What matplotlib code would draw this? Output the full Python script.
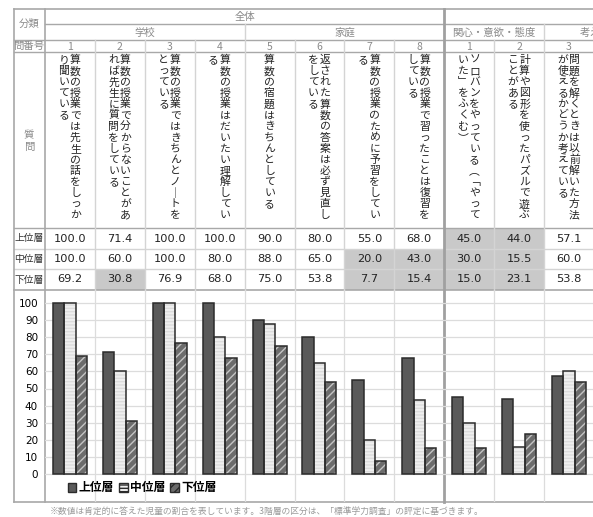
import numpy as np
import matplotlib
matplotlib.use("Agg")
import matplotlib.pyplot as plt
from matplotlib.patches import Patch, Rectangle

plt.rcParams['font.family'] = ['Noto Sans CJK JP', 'DejaVu Sans']

# ---- data ----
numbers = ['1', '2', '3', '4', '5', '6', '7', '8', '1', '2', '3']
questions = [
    '算数の授業では先生の話をしっかり聞いている',
    '算数の授業で分からないことがあれば先生に質問をしている',
    '算数の授業ではきちんとノートをとっている',
    '算数の授業はだいたい理解している',
    '算数の宿題はきちんとしている',
    '返された算数の答案は必ず見直しをしている',
    '算数の授業のために予習をしている',
    '算数の授業で習ったことは復習をしている',
    'ソロバンをやっている（「やっていた」をふくむ）',
    '計算や図形を使ったパズルで遊ぶことがある',
    '問題を解くときは以前解いた方法が使えるかどうか考えている',
]
groups = ['学校', '家庭', '関心・意欲・態度', '考え方']
group_span = [(0, 4), (4, 8), (8, 10), (10, 12)]
levels = ['上位層', '中位層', '下位層']
upper = [100.0, 71.4, 100.0, 100.0, 90.0, 80.0, 55.0, 68.0, 45.0, 44.0, 57.1]
middle = [100.0, 60.0, 100.0, 80.0, 88.0, 65.0, 20.0, 43.0, 30.0, 15.5, 60.0]
lower = [69.2, 30.8, 76.9, 68.0, 75.0, 53.8, 7.7, 15.4, 15.0, 23.1, 53.8]
# shaded cells (row, column)
highlight = [(2, 1), (1, 6), (1, 7), (2, 6), (2, 7),
             (0, 8), (1, 8), (2, 8), (0, 9), (1, 9), (2, 9)]
note = '※数値は肯定的に答えた児童の割合を表しています。3階層の区分は、「標準学力調査」の評定に基づきます。'

W, H = 593, 517
fig = plt.figure(figsize=(W / 100, H / 100), dpi=100)
bg = fig.add_axes([0, 0, 1, 1])
bg.set_xlim(0, W)
bg.set_ylim(H, 0)
bg.axis('off')

x0 = 45.0
cw = 49.9
n = len(questions)
bounds = [x0 + i * cw for i in range(n + 2)]
centers = [x0 + (i + 0.5) * cw for i in range(n)]
grey = '#8a8a8a'
light = '#d4d4d4'
border = '#a8a8a8'

# row positions
y_top, y_r1, y_r2, y_r3, y_q = 9, 24, 40, 52, 228
y_rows = [228, 249, 269, 290]
y_bot = 502

# shaded cells
for r, c in highlight:
    bg.add_patch(Rectangle((bounds[c], y_rows[r]), cw, y_rows[r + 1] - y_rows[r],
                           facecolor='#c9c9c9', edgecolor='none', zorder=0))

# horizontal lines
bg.plot([x0, W], [y_r1, y_r1], color=border, lw=1)
for yy in [y_r2, y_r3, y_q, y_rows[1], y_rows[2]]:
    bg.plot([14, W], [yy, yy], color=light if yy in (y_rows[1], y_rows[2]) else border, lw=1)
bg.plot([14, W], [y_rows[3], y_rows[3]], color=border, lw=1.2)
bg.plot([14, W], [y_top, y_top], color=border, lw=1.2)
bg.plot([14, W], [y_bot, y_bot], color=border, lw=1.2)
bg.plot([14, 14], [y_top, y_bot], color=border, lw=1.2)
bg.plot([x0, x0], [y_top, y_bot], color=border, lw=1.2)

# vertical lines in the table body
for b in bounds[1:n]:
    if abs(b - bounds[8]) < 1:
        continue
    bg.plot([b, b], [y_r2 if b not in (bounds[4], bounds[10]) else y_r1, y_rows[3]],
            color=light, lw=1)
bg.plot([bounds[8], bounds[8]], [y_top, y_bot], color='#a0a0a0', lw=2)

# header texts
bg.text(29, 24, '分類', ha='center', va='center', fontsize=7.5, color=grey)
bg.text(29, 46, '問番号', ha='center', va='center', fontsize=7.5, color=grey)
bg.text(29, 135, '質', ha='center', va='center', fontsize=7.5, color=grey)
bg.text(29, 147, '問', ha='center', va='center', fontsize=7.5, color=grey)
bg.text((bounds[0] + bounds[8]) / 2, 17, '全体', ha='center', va='center', fontsize=7.5, color=grey)
for g, (a, b) in zip(groups, group_span):
    if b > n:
        bg.text(bounds[a] + 36, 32.5, g, ha='left', va='center', fontsize=7.5, color=grey)
    else:
        bg.text((bounds[a] + bounds[b]) / 2, 32.5, g, ha='center', va='center',
                fontsize=7.5, color=grey)
for i, s in enumerate(numbers):
    bg.text(centers[i], 46.5, s, ha='center', va='center', fontsize=7.5, color=grey)

# vertical question text
vert = {'ー': '｜', '（': '︵', '）': '︶', '「': '﹁', '」': '﹂'}
for i, q in enumerate(questions):
    lines = [q[k:k + 15] for k in range(0, len(q), 15)]
    for j, line in enumerate(lines):
        if len(lines) == 1:
            xx = centers[i]
        else:
            xx = centers[i] + 5.5 - j * 11.5
        for k, ch in enumerate(line):
            bg.text(xx, 60 + k * 11.1, vert.get(ch, ch), ha='center', va='center',
                    fontsize=7.8, color='#222222')

# value rows
for r, (lab, vals) in enumerate(zip(levels, [upper, middle, lower])):
    yc = (y_rows[r] + y_rows[r + 1]) / 2
    bg.text(29, yc, lab, ha='center', va='center', fontsize=7, color='#333333')
    for i, v in enumerate(vals):
        bg.text(centers[i], yc, f'{v:.1f}', ha='center', va='center', fontsize=8.2,
                color='#222222', family='DejaVu Sans')

bg.text(50, 511, note, ha='left', va='center', fontsize=6.3, color='#9a9a9a')

# ---- chart ----
ax = fig.add_axes([x0 / W, 1 - y_bot / H, (W - x0) / W, (y_bot - y_rows[3]) / H])
ax.patch.set_alpha(0)
ppu = (474 - 303) / 100.0
ax.set_ylim(-(y_bot - 474) / ppu, 100 + (303 - y_rows[3]) / ppu)
ax.set_xlim(0, (W - x0) / cw)
for s in ax.spines.values():
    s.set_visible(False)
ax.set_xticks([])
ax.set_yticks(np.arange(0, 101, 10))
ax.tick_params(axis='y', length=0, pad=5, labelsize=7.5)
for lab in ax.get_yticklabels():
    lab.set_family('DejaVu Sans')
for yv in np.arange(0, 101, 10):
    ax.axhline(yv, color='#dcdcdc', lw=0.9, zorder=0)
for i in range(1, n + 1):
    if i != 8:
        ax.axvline(i, color='#dcdcdc', lw=0.9, zorder=0)

x = np.arange(n) + 0.5
bw = 0.227
styles = [
    dict(face='#5a5a5a', hatch=None, hcol='#5a5a5a'),
    dict(face='#efefef', hatch='-----', hcol='#dcdcdc'),
    dict(face='#6c6c6c', hatch='////', hcol='#c4c4c4'),
]
plt.rcParams['hatch.linewidth'] = 1.0
for k, (vals, st) in enumerate(zip([upper, middle, lower], styles)):
    xs = x + (k - 1) * bw
    ax.bar(xs, vals, bw, color=st['face'], edgecolor=st['hcol'], hatch=st['hatch'],
           linewidth=0, zorder=2)
    ax.bar(xs, vals, bw, fill=False, edgecolor='#2b2b2b', linewidth=1.1, zorder=3)

handles = [Patch(facecolor=st['face'], edgecolor='#2b2b2b', hatch=st['hatch'], lw=1)
           for st in styles]
fig.legend(handles, levels, loc='center', bbox_to_anchor=(142 / W, 1 - 488 / H),
           ncol=3, frameon=False, prop={'size': 8.5, 'weight': 'bold'},
           handlelength=0.75, handleheight=0.75,
           handletextpad=0.2, columnspacing=0.4)

fig.savefig('out.png', dpi=100)
